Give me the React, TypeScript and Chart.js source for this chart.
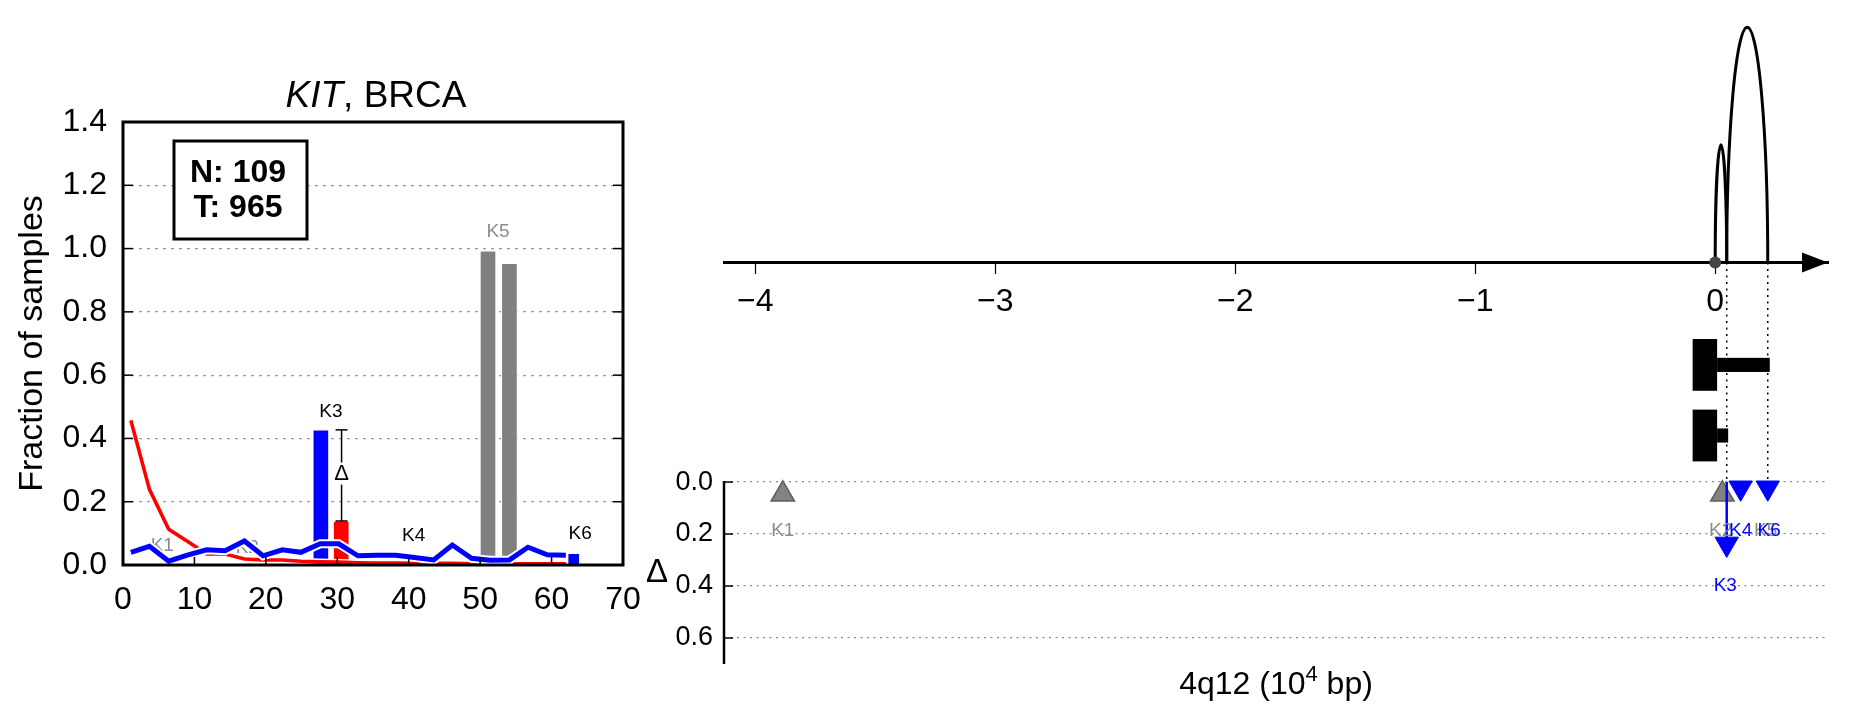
import React, { useEffect, useRef } from 'react';
import { Chart, registerables } from 'chart.js';

Chart.register(...registerables);

const FONT = '"Liberation Sans", Arial, Helvetica, sans-serif';

// ---------------- left panel data ----------------
const BIN_X = [1.1, 3.7, 6.4, 9.0, 11.7, 14.3, 17.0, 19.6, 22.3, 24.9, 27.6, 30.2, 32.9, 35.5, 38.2, 40.8, 43.5, 46.1, 48.8, 51.4, 54.1, 56.7, 59.4, 62.0];
const NORMAL_FRAC = [0.040, 0.059, 0.012, 0.031, 0.048, 0.045, 0.076, 0.029, 0.048, 0.040, 0.067, 0.067, 0.029, 0.031, 0.031, 0.024, 0.016, 0.063, 0.021, 0.015, 0.016, 0.056, 0.032, 0.031];
const TUMOR_FRAC = [0.457, 0.239, 0.113, 0.075, 0.035, 0.035, 0.019, 0.016, 0.016, 0.012, 0.010, 0.009, 0.007, 0.006, 0.006, 0.005, 0.005, 0.005, 0.004, 0.004, 0.004, 0.004, 0.004, 0.004];

const NORMAL_BAR_X = [27.7];
const NORMAL_BAR_Y = [0.427];
const NORMAL_SMALL_BAR_X = [63.1];
const NORMAL_SMALL_BAR_Y = [0.037];
const TUMOR_BAR_X = [30.55];
const TUMOR_BAR_Y = [0.139];
const SHARED_BAR_X = [51.1, 54.1];
const SHARED_BAR_Y = [0.993, 0.953];

const DELTA_X = 30.6;
const DELTA_LOW = 0.139;
const DELTA_HIGH = 0.427;
const DELTA_MID = 0.292;

const LEFT_LABELS = ['K1', 'K2', 'K3', 'K4', 'K5', 'K6'];
const LEFT_LABEL_X = [5.5, 17.4, 29.1, 40.7, 52.5, 64.0];
const LEFT_LABEL_Y = [0.061, 0.055, 0.484, 0.093, 1.053, 0.098];
const LEFT_LABEL_GRAY = [true, true, false, false, true, false];

const X_TICKS_LEFT = [0, 10, 20, 30, 40, 50, 60, 70];
const Y_TICKS_LEFT = [0, 0.2, 0.4, 0.6, 0.8, 1.0, 1.2, 1.4];

const N_COUNT = 109;
const T_COUNT = 965;

// ---------------- right panel data ----------------
const TOP_TICKS = [-4, -3, -2, -1, 0];
const DELTA_TICKS = [0, 0.2, 0.4, 0.6];
const ARC_START = [0, 0.048];
const ARC_END = [0.048, 0.219];
const ARC_HEIGHT = [0.5, 1.0];
const GUIDE_X = [0.048, 0.219];
const TRACK_Y = [-0.435, -0.735];
const EXON_START = [-0.094, -0.094];
const EXON_END = [0.008, 0.008];
const INTRON_END = [0.2275, 0.054];

const UP_MARK_X = [-3.885, 0.03];
const UP_MARK_Y = [0.047, 0.047];
const DOWN_MARK_X = [0.106, 0.219, 0.048];
const DOWN_MARK_Y = [0.022, 0.022, 0.238];
const STEM_X = 0.048;
const STEM_Y = 0.238;

const RIGHT_LABELS = ['K1', 'K2', 'K5', 'K4', 'K6', 'K3'];
const RIGHT_LABEL_X = [-3.885, 0.0225, 0.21, 0.106, 0.225, 0.042];
const RIGHT_LABEL_Y = [0.187, 0.187, 0.187, 0.187, 0.187, 0.40];
const RIGHT_LABEL_GRAY = [true, true, true, false, false, false];

function pts(xs: number[], ys: number[]) {
  return xs.map((x, i) => ({ x, y: ys[i] }));
}

function seg(ctx: CanvasRenderingContext2D, x1: number, y1: number, x2: number, y2: number) {
  ctx.beginPath();
  ctx.moveTo(x1, y1);
  ctx.lineTo(x2, y2);
  ctx.stroke();
}

const leftDecor = {
  id: 'leftDecor',
  beforeDatasetsDraw(chart: any) {
    const { ctx } = chart;
    const xs = chart.scales.x;
    const ys = chart.scales.y;
    ctx.save();
    ctx.font = `19px ${FONT}`;
    ctx.textAlign = 'center';
    ctx.textBaseline = 'middle';
    LEFT_LABELS.forEach((t, i) => {
      if (!LEFT_LABEL_GRAY[i]) return;
      ctx.fillStyle = '#8c8c8c';
      ctx.fillText(t, xs.getPixelForValue(LEFT_LABEL_X[i]), ys.getPixelForValue(LEFT_LABEL_Y[i]));
    });
    ctx.restore();
  },
  afterDatasetsDraw(chart: any) {
    const { ctx, chartArea: ca } = chart;
    const xs = chart.scales.x;
    const ys = chart.scales.y;
    ctx.save();
    ctx.textAlign = 'center';
    ctx.textBaseline = 'middle';
    ctx.font = `19px ${FONT}`;
    LEFT_LABELS.forEach((t, i) => {
      if (LEFT_LABEL_GRAY[i]) return;
      ctx.fillStyle = '#000';
      ctx.fillText(t, xs.getPixelForValue(LEFT_LABEL_X[i]), ys.getPixelForValue(LEFT_LABEL_Y[i]));
    });

    // delta error bar
    const ex = xs.getPixelForValue(DELTA_X);
    const yHi = ys.getPixelForValue(DELTA_HIGH);
    const yLo = ys.getPixelForValue(DELTA_LOW);
    const yMid = ys.getPixelForValue(DELTA_MID);
    ctx.strokeStyle = '#000';
    ctx.lineWidth = 1.5;
    seg(ctx, ex, yHi, ex, yMid - 10);
    seg(ctx, ex, yMid + 12, ex, yLo);
    seg(ctx, ex - 6, yHi, ex + 6, yHi);
    seg(ctx, ex - 6, yLo, ex + 6, yLo);
    ctx.fillStyle = '#000';
    ctx.font = `22px ${FONT}`;
    ctx.fillText('\u0394', ex, yMid + 1);

    // inner ticks
    ctx.lineWidth = 1.5;
    Y_TICKS_LEFT.forEach((v) => {
      const py = ys.getPixelForValue(v);
      seg(ctx, ca.left, py, ca.left + 10, py);
      seg(ctx, ca.right - 10, py, ca.right, py);
    });
    X_TICKS_LEFT.forEach((v) => {
      const px = xs.getPixelForValue(v);
      seg(ctx, px, ca.bottom, px, ca.bottom - 8);
    });

    // frame
    ctx.lineWidth = 3;
    ctx.strokeRect(ca.left, ca.top, ca.right - ca.left, ca.bottom - ca.top);

    // counts box
    const bx = ca.left + 51;
    const by = ca.top + 19;
    ctx.fillStyle = '#fff';
    ctx.fillRect(bx, by, 133, 98);
    ctx.lineWidth = 3;
    ctx.strokeRect(bx, by, 133, 98);
    ctx.fillStyle = '#000';
    ctx.font = `bold 32px ${FONT}`;
    ctx.textBaseline = 'alphabetic';
    ctx.fillText(`N: ${N_COUNT}`, bx + 64, by + 41);
    ctx.fillText(`T: ${T_COUNT}`, bx + 64, by + 76);

    // title
    const cx = (ca.left + ca.right) / 2 + 3;
    ctx.font = `italic 37px ${FONT}`;
    const w1 = ctx.measureText('KIT').width;
    ctx.font = `37px ${FONT}`;
    const w2 = ctx.measureText(', BRCA').width;
    const sx = cx - (w1 + w2) / 2;
    ctx.textAlign = 'left';
    ctx.font = `italic 37px ${FONT}`;
    ctx.fillText('KIT', sx, ca.top - 15);
    ctx.font = `37px ${FONT}`;
    ctx.fillText(', BRCA', sx + w1, ca.top - 15);
    ctx.restore();
  },
};

const rightDecor = {
  id: 'rightDecor',
  beforeDatasetsDraw(chart: any) {
    const { ctx, chartArea: ca } = chart;
    const xs = chart.scales.x;
    const ya = chart.scales.yArc;
    const yd = chart.scales.yD;
    const y0 = ya.getPixelForValue(0);
    const d0 = yd.getPixelForValue(0);
    const dMax = yd.getPixelForValue(0.7);
    ctx.save();
    // dotted guides
    ctx.strokeStyle = '#000';
    ctx.lineWidth = 1.5;
    ctx.setLineDash([2, 4.5]);
    GUIDE_X.forEach((g) => {
      const px = xs.getPixelForValue(g);
      seg(ctx, px, y0, px, d0);
    });
    ctx.setLineDash([]);
    // delta axis spine and ticks
    ctx.lineWidth = 2.5;
    seg(ctx, ca.left, d0 - 1, ca.left, dMax);
    ctx.lineWidth = 1.5;
    DELTA_TICKS.forEach((v) => {
      const py = yd.getPixelForValue(v);
      seg(ctx, ca.left, py, ca.left + 9, py);
    });
    // gene model
    ctx.fillStyle = '#000';
    TRACK_Y.forEach((ty, i) => {
      const x1 = xs.getPixelForValue(EXON_START[i]);
      const x2 = xs.getPixelForValue(EXON_END[i]);
      const t = ya.getPixelForValue(ty + 0.11);
      const b = ya.getPixelForValue(ty - 0.11);
      ctx.fillRect(x1, t, x2 - x1, b - t);
      const x3 = xs.getPixelForValue(INTRON_END[i]);
      const t2 = ya.getPixelForValue(ty + 0.03);
      const b2 = ya.getPixelForValue(ty - 0.03);
      ctx.fillRect(x2, t2, x3 - x2, b2 - t2);
    });
    // arcs
    ctx.lineWidth = 3;
    ctx.strokeStyle = '#000';
    ARC_START.forEach((a, i) => {
      const x1 = xs.getPixelForValue(a);
      const x2 = xs.getPixelForValue(ARC_END[i]);
      const top = ya.getPixelForValue(ARC_HEIGHT[i]);
      ctx.beginPath();
      ctx.ellipse((x1 + x2) / 2, y0, (x2 - x1) / 2, y0 - top, 0, Math.PI, 2 * Math.PI);
      ctx.stroke();
    });
    // arrow head
    ctx.fillStyle = '#000';
    ctx.beginPath();
    ctx.moveTo(ca.right, y0);
    ctx.lineTo(ca.right - 26, y0 - 10);
    ctx.lineTo(ca.right - 26, y0 + 10);
    ctx.closePath();
    ctx.fill();
    // origin dot
    ctx.fillStyle = '#454545';
    ctx.beginPath();
    ctx.arc(xs.getPixelForValue(0), y0, 6, 0, 2 * Math.PI);
    ctx.fill();
    ctx.restore();
  },
  afterDatasetsDraw(chart: any) {
    const { ctx, chartArea: ca } = chart;
    const xs = chart.scales.x;
    const yd = chart.scales.yD;
    const d0 = yd.getPixelForValue(0);
    const dMax = yd.getPixelForValue(0.7);
    ctx.save();
    ctx.textAlign = 'center';
    ctx.textBaseline = 'middle';
    ctx.font = `19px ${FONT}`;
    RIGHT_LABELS.forEach((t, i) => {
      ctx.fillStyle = RIGHT_LABEL_GRAY[i] ? '#8c8c8c' : '#0000ff';
      ctx.fillText(t, xs.getPixelForValue(RIGHT_LABEL_X[i]), yd.getPixelForValue(RIGHT_LABEL_Y[i]));
    });
    // delta axis title
    ctx.fillStyle = '#000';
    ctx.font = `33px ${FONT}`;
    ctx.fillText('\u0394', ca.left - 67, (d0 + dMax) / 2);
    // x label: 4q12 (10^4 bp)
    const parts = ['4q12 (10', '4', ' bp)'];
    const sizes = [32, 22, 32];
    const widths = parts.map((p, i) => {
      ctx.font = `${sizes[i]}px ${FONT}`;
      return ctx.measureText(p).width;
    });
    const total = widths.reduce((a, b) => a + b, 0);
    let px = (ca.left + ca.right) / 2 - total / 2;
    const baseY = dMax + 30;
    ctx.textAlign = 'left';
    ctx.textBaseline = 'alphabetic';
    parts.forEach((p, i) => {
      ctx.font = `${sizes[i]}px ${FONT}`;
      ctx.fillText(p, px, i === 1 ? baseY - 13 : baseY);
      px += widths[i];
    });
    ctx.restore();
  },
};

function leftConfig(): any {
  return {
    type: 'bar',
    data: {
      datasets: [
        { type: 'line', label: 'Normal', data: pts(BIN_X, NORMAL_FRAC), borderColor: '#0000ff', borderWidth: 5, pointRadius: 0, tension: 0, order: 1 },
        { type: 'line', label: 'Normal outline', data: pts(BIN_X, NORMAL_FRAC), borderColor: '#ffffff', borderWidth: 9, pointRadius: 0, tension: 0, order: 2 },
        { type: 'line', label: 'Tumor', data: pts(BIN_X, TUMOR_FRAC), borderColor: '#ff0000', borderWidth: 3.6, pointRadius: 0, tension: 0, order: 3 },
        { type: 'line', label: 'Tumor outline', data: pts(BIN_X, TUMOR_FRAC), borderColor: '#ffffff', borderWidth: 6.5, pointRadius: 0, tension: 0, order: 4 },
        { type: 'bar', label: 'Normal K3', data: pts(NORMAL_BAR_X, NORMAL_BAR_Y), backgroundColor: '#0000ff', borderColor: '#ffffff', borderWidth: 1, barThickness: 16, grouped: false, order: 5 },
        { type: 'bar', label: 'Normal K6', data: pts(NORMAL_SMALL_BAR_X, NORMAL_SMALL_BAR_Y), backgroundColor: '#0000ff', borderColor: '#ffffff', borderWidth: 1, barThickness: 12, grouped: false, order: 6 },
        { type: 'bar', label: 'Tumor K3', data: pts(TUMOR_BAR_X, TUMOR_BAR_Y), backgroundColor: '#ff0000', borderColor: '#ffffff', borderWidth: 1, barThickness: 16, grouped: false, order: 7 },
        { type: 'bar', label: 'K5', data: pts(SHARED_BAR_X, SHARED_BAR_Y), backgroundColor: '#808080', borderColor: '#ffffff', borderWidth: 1, barThickness: 16, grouped: false, order: 8 },
      ],
    },
    options: {
      responsive: false,
      animation: false,
      events: [],
      layout: { padding: { left: 0, top: 122, right: 57, bottom: 0 } },
      plugins: { legend: { display: false }, tooltip: { enabled: false }, title: { display: false } },
      scales: {
        x: {
          type: 'linear', min: 0, max: 70, offset: false,
          afterBuildTicks: (s: any) => { s.ticks = X_TICKS_LEFT.map((v) => ({ value: v })); },
          afterFit: (s: any) => { s.height = 153; },
          grid: { display: false },
          border: { display: false },
          ticks: { color: '#000', font: { family: FONT, size: 32 }, padding: 8, maxRotation: 0, autoSkip: false },
        },
        y: {
          type: 'linear', min: 0, max: 1.4,
          afterBuildTicks: (s: any) => { s.ticks = Y_TICKS_LEFT.map((v) => ({ value: v })); },
          afterFit: (s: any) => { s.width = 123; },
          grid: { color: '#999999', lineWidth: 1.2, drawTicks: false },
          border: { display: false, dash: [3, 5] },
          ticks: { color: '#000', font: { family: FONT, size: 32 }, padding: 16, callback: (v: any) => Number(v).toFixed(1) },
          title: { display: true, text: 'Fraction of samples', color: '#000', font: { family: FONT, size: 34 }, padding: { top: 12, bottom: 0 } },
        },
      },
    },
    plugins: [leftDecor],
  };
}

function rightConfig(): any {
  return {
    type: 'line',
    data: {
      datasets: [
        { label: 'K3 stem', data: [{ x: STEM_X, y: 0 }, { x: STEM_X, y: STEM_Y }], yAxisID: 'yD', borderColor: '#0000ff', borderWidth: 2.5, pointRadius: 0, order: 2 },
        { label: 'Delta up', data: pts(DOWN_MARK_X, DOWN_MARK_Y), yAxisID: 'yD', showLine: false, pointStyle: 'triangle', pointRotation: 180, pointRadius: 13.5, pointBackgroundColor: '#0000ff', pointBorderColor: '#0000ff', pointBorderWidth: 1, order: 1 },
        { label: 'Not significant', data: pts(UP_MARK_X, UP_MARK_Y), yAxisID: 'yD', showLine: false, pointStyle: 'triangle', pointRotation: 0, pointRadius: 13.5, pointBackgroundColor: 'rgba(118,118,118,0.9)', pointBorderColor: '#5f5f5f', pointBorderWidth: 1.5, order: 3 },
      ],
    },
    options: {
      responsive: false,
      animation: false,
      events: [],
      layout: { padding: { left: 0, top: 20, right: 23, bottom: 54 } },
      plugins: { legend: { display: false }, tooltip: { enabled: false } },
      scales: {
        x: {
          type: 'linear', min: -4.13, max: 0.47, position: { yArc: 0 },
          afterBuildTicks: (s: any) => { s.ticks = TOP_TICKS.map((v) => ({ value: v })); },
          grid: { drawOnChartArea: false, drawTicks: true, tickLength: 10, tickWidth: 1.2, tickColor: '#000', color: '#000' },
          border: { display: true, color: '#000', width: 3 },
          ticks: { color: '#000', font: { family: FONT, size: 32 }, padding: 10, maxRotation: 0, autoSkip: false, callback: (v: any) => (v < 0 ? '\u2212' + Math.abs(v) : String(v)) },
        },
        yArc: { type: 'linear', min: -1.7059, max: 1, display: false },
        yD: {
          type: 'linear', position: 'left', reverse: true, min: -1.75, max: 0.7,
          afterBuildTicks: (s: any) => { s.ticks = DELTA_TICKS.map((v) => ({ value: v })); },
          afterFit: (s: any) => { s.width = 84; },
          grid: { color: '#8a8a8a', lineWidth: 1.2, drawTicks: false },
          border: { display: false, dash: [2, 4.5] },
          ticks: { color: '#000', font: { family: FONT, size: 27 }, padding: 11, callback: (v: any) => Number(v).toFixed(1) },
        },
      },
    },
    plugins: [rightDecor],
  };
}

export default function App() {
  const leftRef = useRef<HTMLCanvasElement>(null);
  const rightRef = useRef<HTMLCanvasElement>(null);
  useEffect(() => {
    const left = new Chart(leftRef.current as HTMLCanvasElement, leftConfig());
    const right = new Chart(rightRef.current as HTMLCanvasElement, rightConfig());
    return () => {
      left.destroy();
      right.destroy();
    };
  }, []);
  return (
    <div style={{ position: 'absolute', left: 0, top: 0, width: 1851, height: 718, background: '#fff', overflow: 'hidden' }}>
      <canvas ref={leftRef} width={680} height={718} style={{ position: 'absolute', left: 0, top: 0, width: 680, height: 718 }} />
      <canvas ref={rightRef} width={1211} height={718} style={{ position: 'absolute', left: 640, top: 0, width: 1211, height: 718 }} />
    </div>
  );
}
